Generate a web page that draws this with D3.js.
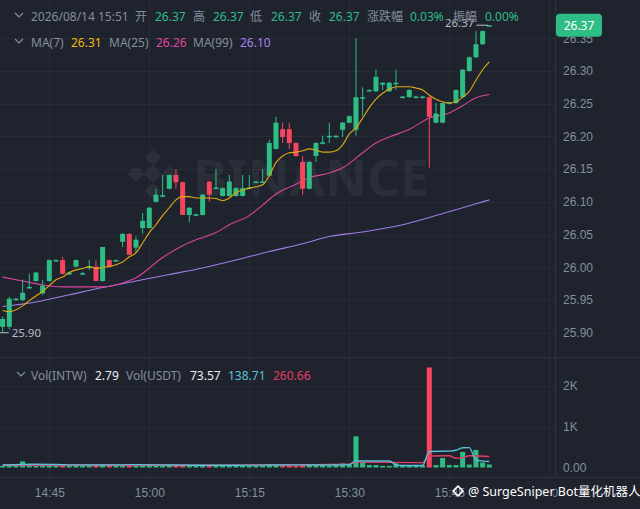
<!doctype html>
<html lang="zh">
<head>
  <title>INTW/USDT 1m</title>
  <meta charset="utf-8" />
  <script src="https://cdn.jsdelivr.net/npm/d3@7/dist/d3.min.js"></script>
  <style>
    html, body { margin: 0; padding: 0; background: #1f232e; }
    svg { display: block; font-family: "Noto Sans", "Noto Sans CJK SC", sans-serif; }
    .axis text { fill: #848e9c; font-size: 12px; }
  </style>
</head>
<body>
  <svg id="chart" width="640" height="509"></svg>

  <script>
    // one candle per minute, 14:38 - 15:51
    const times = ["14:38","14:39","14:40","14:41","14:42","14:43","14:44","14:45","14:46","14:47",
      "14:48","14:49","14:50","14:51","14:52","14:53","14:54","14:55","14:56","14:57",
      "14:58","14:59","15:00","15:01","15:02","15:03","15:04","15:05","15:06","15:07",
      "15:08","15:09","15:10","15:11","15:12","15:13","15:14","15:15","15:16","15:17",
      "15:18","15:19","15:20","15:21","15:22","15:23","15:24","15:25","15:26","15:27",
      "15:28","15:29","15:30","15:31","15:32","15:33","15:34","15:35","15:36","15:37",
      "15:38","15:39","15:40","15:41","15:42","15:43","15:44","15:45","15:46","15:47",
      "15:48","15:49","15:50","15:51"];

    const open = [25.909,25.909,25.950,25.950,25.969,25.979,25.960,25.979,26.010,26.011,
      25.989,26.001,25.989,26.000,26.001,25.979,26.011,26.010,26.039,26.051,
      26.030,26.060,26.060,26.100,26.108,26.120,26.141,26.130,26.080,26.079,
      26.080,26.131,26.120,26.109,26.109,26.109,26.109,26.120,26.130,26.130,
      26.140,26.181,26.211,26.211,26.190,26.161,26.120,26.170,26.189,26.199,
      26.199,26.210,26.221,26.210,26.259,26.270,26.269,26.279,26.269,26.280,
      26.259,26.260,26.259,26.259,26.260,26.221,26.221,26.250,26.251,26.260,
      26.300,26.321,26.341,26.370];
    const high = [25.925,25.955,25.953,25.981,25.990,25.993,25.981,26.012,26.012,26.016,
      25.993,26.012,25.993,26.011,26.010,26.031,26.012,26.012,26.052,26.052,
      26.047,26.083,26.092,26.120,26.141,26.142,26.150,26.131,26.092,26.082,
      26.112,26.132,26.150,26.122,26.141,26.122,26.141,26.141,26.132,26.150,
      26.195,26.230,26.221,26.221,26.191,26.170,26.162,26.191,26.201,26.221,
      26.202,26.222,26.232,26.350,26.275,26.272,26.302,26.283,26.283,26.302,
      26.262,26.272,26.262,26.262,26.261,26.251,26.252,26.253,26.272,26.303,
      26.322,26.361,26.362,26.370];
    const low = [25.900,25.905,25.949,25.948,25.967,25.978,25.958,25.978,26.009,25.989,
      25.988,26.000,25.988,25.996,25.979,25.978,26.000,26.009,26.031,26.019,
      26.022,26.051,26.059,26.099,26.107,26.119,26.120,26.080,26.069,26.078,
      26.079,26.100,26.119,26.108,26.108,26.108,26.108,26.119,26.129,26.129,
      26.139,26.180,26.190,26.181,26.169,26.111,26.119,26.161,26.188,26.190,
      26.198,26.199,26.220,26.201,26.231,26.269,26.268,26.271,26.268,26.271,
      26.258,26.259,26.258,26.258,26.152,26.220,26.220,26.249,26.250,26.259,
      26.299,26.320,26.340,26.370];
    const close = [25.921,25.952,25.952,25.961,25.970,25.992,25.972,26.011,26.011,25.990,
      25.992,26.011,25.991,26.001,25.979,26.031,26.001,26.011,26.051,26.019,
      26.042,26.071,26.091,26.111,26.110,26.141,26.130,26.080,26.091,26.081,
      26.111,26.111,26.122,26.121,26.131,26.121,26.121,26.122,26.131,26.131,
      26.190,26.221,26.199,26.190,26.170,26.120,26.161,26.190,26.191,26.201,
      26.201,26.221,26.231,26.260,26.260,26.271,26.291,26.282,26.282,26.282,
      26.261,26.271,26.261,26.261,26.230,26.235,26.251,26.252,26.271,26.302,
      26.321,26.341,26.361,26.370];

    // volume in USDT
    const volume = [40,60,30,150,90,40,70,50,30,40,
      30,50,30,40,60,50,40,30,40,30,
      40,60,80,40,30,50,40,60,30,20,
      50,30,40,30,40,50,30,30,40,30,
      60,50,40,50,40,60,80,50,70,30,
      60,100,70,760,130,60,60,40,40,100,
      30,40,30,50,2440,60,230,60,60,380,
      70,430,120,73.57];

    // moving averages
    const ma7 = [25.934,25.932,25.935,25.941,25.949,25.956,25.963,25.972,25.981,25.985,
      25.992,25.996,25.998,26.001,25.998,26.000,26.001,26.004,26.008,26.016,
      26.022,26.037,26.053,26.065,26.079,26.091,26.103,26.108,26.108,26.106,
      26.106,26.106,26.105,26.102,26.106,26.114,26.118,26.121,26.123,26.126,
      26.140,26.160,26.170,26.175,26.176,26.178,26.181,26.179,26.176,26.176,
      26.178,26.187,26.204,26.213,26.228,26.244,26.257,26.266,26.272,26.276,
      26.276,26.276,26.274,26.271,26.263,26.257,26.253,26.251,26.253,26.260,
      26.269,26.286,26.302,26.314];
    const ma25Times = ["14:38","14:41","14:44","14:47","14:50","14:53","14:55","14:56","14:58","15:02",
      "15:05","15:07","15:10","15:12","15:15","15:17","15:19","15:22","15:24","15:27",
      "15:29","15:32","15:34","15:36","15:39","15:42","15:45","15:47","15:49","15:51"];
    const ma25 = [25.985,25.979,25.973,25.970,25.970,25.970,25.973,25.976,25.984,26.015,
      26.033,26.042,26.053,26.065,26.079,26.095,26.112,26.127,26.137,26.144,
      26.152,26.175,26.190,26.199,26.211,26.228,26.236,26.247,26.259,26.264];
    const ma99Times = ["14:38","14:43","14:48","14:53","14:58","15:03","15:08","15:13","15:18","15:23",
      "15:27","15:32","15:38","15:42","15:46","15:49","15:51"];
    const ma99 = [25.940,25.947,25.958,25.969,25.979,25.989,25.999,26.011,26.024,26.036,
      26.047,26.054,26.065,26.076,26.088,26.097,26.103];

    const volMa5Times = ["14:38","14:43","14:48","14:53","14:58","15:03","15:08","15:13","15:18","15:23",
      "15:28","15:30","15:31","15:36","15:37","15:38","15:41","15:42","15:45","15:46",
      "15:47","15:48","15:49","15:51"];
    const volMa5 = [60,80,65,60,70,60,55,55,60,65,
      60,70,160,160,65,50,50,390,400,420,
      480,485,180,145];
    const volMa10Times = ["14:38","14:50","15:05","15:20","15:30","15:31","15:41","15:42","15:45","15:46",
      "15:47","15:48","15:51"];
    const volMa10 = [55,60,55,65,80,130,120,280,285,225,240,285,270];

    // legend readouts as shown in the header lines
    const maLegend = [26.31, 26.26, 26.10];
    const volLegend = [2.79, 73.57, 138.71, 260.66];

    const priceTicks = [25.90,25.95,26.00,26.05,26.10,26.15,26.20,26.25,26.30,26.35];
    const volTicks = [0,1000,2000];
    const timeTicks = ["14:45","15:00","15:15","15:30","15:45","16:00"];

    const GREEN = "#2ebd85", RED = "#f6465d";
    const GRID = "#272b36", BORDER = "#2e323d", LABEL = "#848e9c";

    const parseTime = d3.timeParse("%H:%M");
    const candles = times.map((t, i) => ({
      t: parseTime(t), o: open[i], h: high[i], l: low[i], c: close[i], v: volume[i], ma7: ma7[i]
    }));
    const pairs = (ts, vs) => ts.map((t, i) => ({ t: parseTime(t), v: vs[i] }));

    const svg = d3.select("#chart");
    const plotRight = 555;

    const x = d3.scaleTime()
      .domain([parseTime("14:45"), parseTime("16:00")])
      .range([49.3, 549.3]);
    const y = d3.scaleLinear().domain([25.90, 26.35]).range([332.7, 38.3]);
    const yv = d3.scaleLinear().domain([0, 2000]).range([467.5, 385.5]);

    svg.append("defs").append("clipPath").attr("id", "plot")
      .append("rect").attr("x", 0).attr("y", 0).attr("width", plotRight).attr("height", 477);

    // grid
    const grid = svg.append("g");
    grid.selectAll("line.h").data(priceTicks).join("line")
      .attr("x1", 0).attr("x2", plotRight)
      .attr("y1", d => Math.round(y(d)) + 0.5).attr("y2", d => Math.round(y(d)) + 0.5)
      .attr("stroke", GRID);
    grid.selectAll("line.vh").data(volTicks.slice(1)).join("line")
      .attr("x1", 0).attr("x2", plotRight)
      .attr("y1", d => Math.round(yv(d)) + 0.5).attr("y2", d => Math.round(yv(d)) + 0.5)
      .attr("stroke", GRID);
    grid.selectAll("line.v").data(timeTicks).join("line")
      .attr("x1", d => Math.round(x(parseTime(d))) + 0.5).attr("x2", d => Math.round(x(parseTime(d))) + 0.5)
      .attr("y1", 0).attr("y2", 477)
      .attr("stroke", GRID);

    // watermark
    const wm = svg.append("g").attr("fill", "#ffffff").attr("fill-opacity", 0.05);
    [[0, -17], [-17, 0], [17, 0], [0, 17]].forEach(([dx, dy]) => {
      wm.append("rect").attr("x", -6).attr("y", -6).attr("width", 12).attr("height", 12)
        .attr("transform", `translate(${153 + dx},${174 + dy}) rotate(45)`);
    });
    wm.append("rect").attr("x", -6.5).attr("y", -6.5).attr("width", 13).attr("height", 13)
      .attr("transform", "translate(153,174) rotate(45)");
    wm.append("text").attr("x", 193).attr("y", 196)
      .attr("font-size", 50).attr("font-weight", 700)
      .attr("textLength", 236).attr("lengthAdjust", "spacingAndGlyphs")
      .text("BINANCE");

    // pane borders
    svg.append("line").attr("x1", 0).attr("x2", 640).attr("y1", 357.5).attr("y2", 357.5).attr("stroke", BORDER);
    svg.append("line").attr("x1", 0).attr("x2", 640).attr("y1", 477.5).attr("y2", 477.5).attr("stroke", BORDER);
    svg.append("line").attr("x1", plotRight + 0.5).attr("x2", plotRight + 0.5).attr("y1", 0).attr("y2", 477).attr("stroke", BORDER);

    const plot = svg.append("g").attr("clip-path", "url(#plot)");
    const bodyW = 5;

    // moving averages
    const line = d3.line().x(d => x(d.t)).y(d => y(d.v)).curve(d3.curveMonotoneX);
    plot.append("path").datum(pairs(ma99Times, ma99)).attr("d", line)
      .attr("fill", "none").attr("stroke", "#a07de6").attr("stroke-width", 1.1);
    plot.append("path").datum(pairs(ma25Times, ma25)).attr("d", line)
      .attr("fill", "none").attr("stroke", "#d9439f").attr("stroke-width", 1.1);

    // candles
    const candle = plot.selectAll("g.candle").data(candles).join("g")
      .attr("class", "candle")
      .attr("fill", d => d.c >= d.o ? GREEN : RED)
      .attr("stroke", d => d.c >= d.o ? GREEN : RED);
    candle.append("line")
      .attr("x1", d => x(d.t)).attr("x2", d => x(d.t))
      .attr("y1", d => y(d.h)).attr("y2", d => y(d.l))
      .attr("stroke-width", 1);
    candle.append("rect")
      .attr("stroke", "none")
      .attr("x", d => x(d.t) - bodyW / 2)
      .attr("width", bodyW)
      .attr("y", d => y(Math.max(d.o, d.c)))
      .attr("height", d => Math.max(1.5, Math.abs(y(d.o) - y(d.c))));

    plot.append("path").datum(candles.map(d => ({ t: d.t, v: d.ma7 }))).attr("d", line)
      .attr("fill", "none").attr("stroke", "#e0a911").attr("stroke-width", 1.1);

    // volume
    plot.selectAll("rect.vol").data(candles).join("rect")
      .attr("class", "vol")
      .attr("fill", d => d.c >= d.o ? GREEN : RED)
      .attr("x", d => x(d.t) - bodyW / 2)
      .attr("width", bodyW)
      .attr("y", d => Math.min(yv(d.v), yv(0) - 1.5))
      .attr("height", d => Math.max(1.5, yv(0) - yv(d.v)));
    const vline = d3.line().x(d => x(d.t)).y(d => yv(d.v)).curve(d3.curveMonotoneX);
    plot.append("path").datum(pairs(volMa10Times, volMa10)).attr("d", vline)
      .attr("fill", "none").attr("stroke", "#e23c63").attr("stroke-width", 1.4);
    plot.append("path").datum(pairs(volMa5Times, volMa5)).attr("d", vline)
      .attr("fill", "none").attr("stroke", "#5bc0d8").attr("stroke-width", 1.4);

    // high / low markers
    const hi = candles[d3.maxIndex(candles, d => d.h)];
    const lo = candles[d3.minIndex(candles, d => d.l)];
    const mark = svg.append("g").attr("fill", "#b7bdc6").attr("stroke", "#b7bdc6").attr("font-size", 11.5);
    mark.append("line").attr("x1", x(hi.t) - 13).attr("x2", x(hi.t) - 1)
      .attr("y1", y(hi.h)).attr("y2", y(hi.h));
    mark.append("text").attr("stroke", "none").attr("text-anchor", "end")
      .attr("x", x(hi.t) - 15).attr("y", y(hi.h) + 2).text(hi.h.toFixed(2));
    mark.append("line").attr("x1", Math.max(0, x(lo.t) - 3)).attr("x2", x(lo.t) + 6)
      .attr("y1", y(lo.l)).attr("y2", y(lo.l));
    mark.append("text").attr("stroke", "none")
      .attr("x", x(lo.t) + 9).attr("y", y(lo.l) + 4.5).text(lo.l.toFixed(2));

    // axes
    svg.append("g").attr("class", "axis")
      .attr("transform", `translate(${plotRight + 3},0)`)
      .call(d3.axisRight(y).tickValues(priceTicks).tickFormat(d3.format(".2f")).tickSize(0).tickPadding(5))
      .call(g => g.select(".domain").remove());
    svg.append("g").attr("class", "axis")
      .attr("transform", `translate(${plotRight + 3},0)`)
      .call(d3.axisRight(yv).tickValues(volTicks)
        .tickFormat(d => d === 0 ? "0.00" : d3.format("d")(d / 1000) + "K").tickSize(0).tickPadding(5))
      .call(g => g.select(".domain").remove());
    svg.append("g").attr("class", "axis")
      .attr("transform", "translate(0,485)")
      .call(d3.axisBottom(x).tickValues(timeTicks.map(parseTime)).tickFormat(d3.timeFormat("%H:%M")).tickSize(0))
      .call(g => g.select(".domain").remove());

    // current price tag
    const last = candles[candles.length - 1];
    svg.append("rect").attr("x", 556).attr("y", y(last.c) - 11.5).attr("width", 46).attr("height", 23)
      .attr("rx", 4).attr("fill", GREEN);
    svg.append("text").attr("x", 579).attr("y", y(last.c) + 4.3).attr("text-anchor", "middle")
      .attr("fill", "#ffffff").attr("font-size", 12).text(last.c.toFixed(2));

    // legends
    function chevron(cx, cy) {
      svg.append("path").attr("d", `M${cx - 4},${cy - 2}L${cx},${cy + 2}L${cx + 4},${cy - 2}`)
        .attr("fill", "none").attr("stroke", LABEL).attr("stroke-width", 1.2);
    }
    function legend(items, yPos) {
      const g = svg.append("g").attr("font-size", 12);
      items.forEach(([tx, str, col]) => {
        g.append("text").attr("x", tx).attr("y", yPos).attr("fill", col).text(str);
      });
    }
    const pct = (last.c - candles[candles.length - 2].c) / candles[candles.length - 2].c * 100;
    const amp = (last.h - last.l) / last.o * 100;
    chevron(19, 15);
    legend([
      [31, "2026/08/14 15:51", LABEL], [135, "开", LABEL], [155, last.o.toFixed(2), GREEN],
      [193, "高", LABEL], [213, last.h.toFixed(2), GREEN], [250, "低", LABEL], [271, last.l.toFixed(2), GREEN],
      [309, "收", LABEL], [329, last.c.toFixed(2), GREEN], [367, "涨跌幅", LABEL],
      [410, pct.toFixed(2) + "%", GREEN], [453, "振幅", LABEL], [485, amp.toFixed(2) + "%", GREEN]
    ], 20.5);
    chevron(19, 41);
    legend([
      [31, "MA(7)", LABEL], [71, maLegend[0].toFixed(2), "#f0b90b"],
      [109, "MA(25)", LABEL], [156, maLegend[1].toFixed(2), "#e0479e"],
      [193, "MA(99)", LABEL], [240, maLegend[2].toFixed(2), "#a982f0"]
    ], 46.5);
    chevron(21, 374);
    legend([
      [31, "Vol(INTW)", LABEL], [95, volLegend[0].toFixed(2), "#eaecef"],
      [126, "Vol(USDT)", LABEL], [190, volLegend[1].toFixed(2), "#eaecef"],
      [228, volLegend[2].toFixed(2), "#5bc0d8"], [273, volLegend[3].toFixed(2), "#e23c63"]
    ], 379.5);

    // bottom-right credit
    const credit = svg.append("g");
    credit.append("rect").attr("x", -3.5).attr("y", -3.5).attr("width", 7).attr("height", 7)
      .attr("fill", "none").attr("stroke", "#ffffff").attr("stroke-width", 1.6)
      .attr("transform", "translate(458,491) rotate(45)");
    credit.append("text").attr("x", 468).attr("y", 495.5).attr("font-size", 12.5)
      .attr("fill", "#ffffff").attr("stroke", "#1f232e").attr("stroke-width", 2.5).attr("paint-order", "stroke")
      .text("@ SurgeSniper Bot量化机器人");
  </script>
</body>
</html>
